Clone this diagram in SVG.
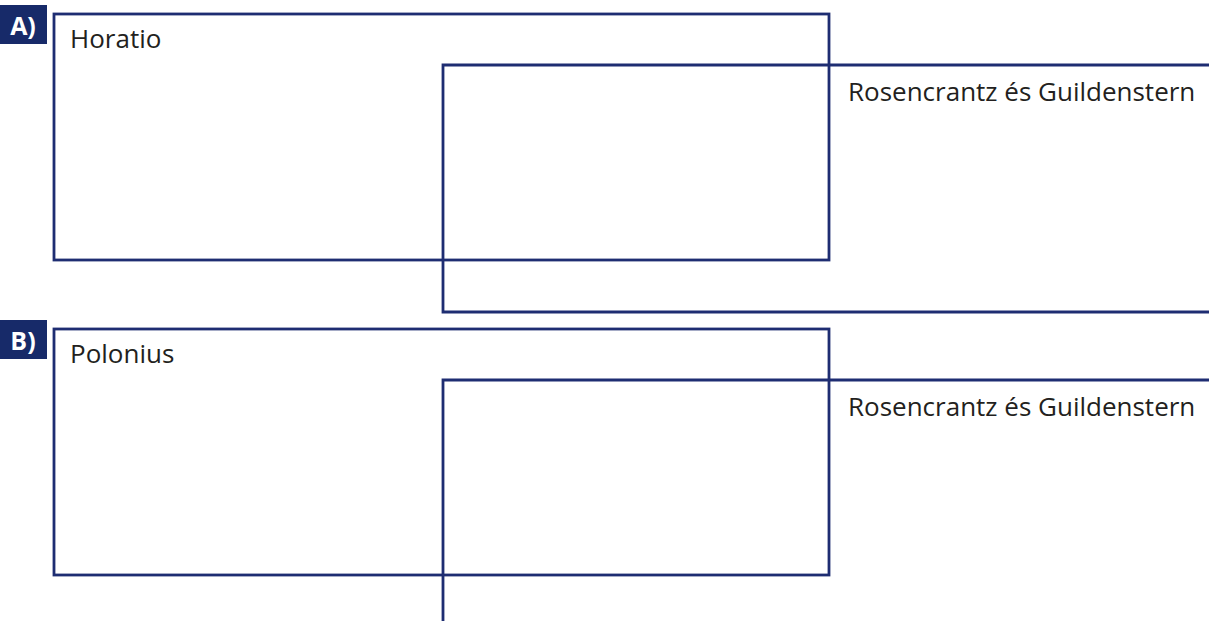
<svg xmlns="http://www.w3.org/2000/svg" width="1209" height="621" viewBox="0 0 1209 621">
<style>
.frame{fill:none;stroke:#1e2d72;stroke-width:2.8}
.tag{fill:#172a69}
.tagt{fill:#ffffff;font-family:"Open Sans","Liberation Sans",sans-serif;font-weight:bold;font-size:25px;text-anchor:middle}
.lbl{fill:#231f20;font-family:"Open Sans","Liberation Sans",sans-serif;font-size:26px}
</style>
<rect width="1209" height="621" fill="#ffffff"/>
<g id="panelA">
  <g id="tagA"><rect class="tag" x="0" y="5" width="47" height="39"/><text class="tagt" x="23" y="35">A)</text></g>
  <g id="horatio"><rect class="frame" x="54" y="14" width="775" height="246"/><text class="lbl" x="70" y="48">Horatio</text></g>
  <g id="rgA"><path class="frame" d="M1212,65 H443 V312 H1212"/><text class="lbl" x="848" y="101">Rosencrantz és Guildenstern</text></g>
</g>
<g id="panelB">
  <g id="tagB"><rect class="tag" x="0" y="320" width="47" height="39"/><text class="tagt" x="23" y="350">B)</text></g>
  <g id="polonius"><rect class="frame" x="54" y="329" width="775" height="246"/><text class="lbl" x="70" y="363">Polonius</text></g>
  <g id="rgB"><path class="frame" d="M1212,380 H443 V624"/><text class="lbl" x="848" y="416">Rosencrantz és Guildenstern</text></g>
</g>
<g id="connectors"></g>
</svg>
